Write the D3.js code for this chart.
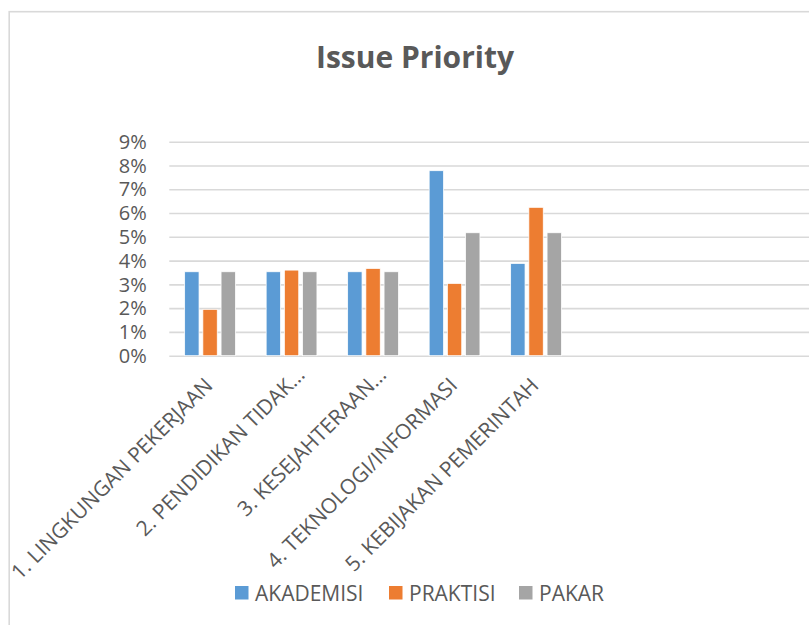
<!DOCTYPE html>
<html>
<head>
<meta charset="utf-8">
<script src="https://cdn.jsdelivr.net/npm/d3@7"></script>
<style>
  body { margin: 0; background: #fff; }
  text { font-family: "Open Sans", "Noto Sans", sans-serif; fill: #595959; }
  .title { font-weight: bold; font-size: 30px; }
  .tick-label { font-size: 20px; }
  .cat-label { font-size: 21px; }
  .legend-label { font-size: 21px; }
  .grid line { stroke: #d9d9d9; stroke-width: 1.6; }
  .grid path { display: none; }
</style>
</head>
<body>
<div id="chart"></div>
<script>
// Grouped bar chart "Issue Priority" (in %).

const categories = [
  "1. LINGKUNGAN PEKERJAAN",
  "2. PENDIDIKAN TIDAK…",
  "3. KESEJAHTERAAN…",
  "4. TEKNOLOGI/INFORMASI",
  "5. KEBIJAKAN PEMERINTAH"
];
const seriesNames = ["AKADEMISI", "PRAKTISI", "PAKAR"];
const akademisi = [3.53, 3.53, 3.53, 7.78, 3.88];
const praktisi = [1.95, 3.60, 3.67, 3.04, 6.24];
const pakar = [3.53, 3.53, 3.53, 5.17, 5.17];
const yTicks = [0, 1, 2, 3, 4, 5, 6, 7, 8, 9];
const colors = ["#5b9bd5", "#ed7d31", "#a5a5a5"];

const width = 809;
const height = 625;

// plot box; the slot width leaves room for 8 categories, so the right side runs off the frame
const plotLeft = 169.3;
const slot = 81.5;
const plotTop = 141.7;
const plotBottom = 355.7;

const svg = d3.select("#chart")
  .append("svg")
  .attr("width", width)
  .attr("height", height);

// outer chart border (cut off on the right and bottom)
svg.append("rect")
  .attr("x", 9.2)
  .attr("y", 11.7)
  .attr("width", width + 40)
  .attr("height", height + 40)
  .attr("fill", "none")
  .attr("stroke", "#d9d9d9")
  .attr("stroke-width", 1.6);

svg.append("text")
  .attr("class", "title")
  .attr("x", 415)
  .attr("y", 68)
  .attr("text-anchor", "middle")
  .text("Issue Priority");

const x0 = d3.scaleBand()
  .domain(categories)
  .range([plotLeft, plotLeft + slot * categories.length]);

const x1 = d3.scaleBand()
  .domain(seriesNames)
  .range([0, 54.6])
  .paddingInner(0.21)
  .paddingOuter(0.105);

const y = d3.scaleLinear()
  .domain([0, 9])
  .range([plotBottom, plotTop]);

const color = d3.scaleOrdinal()
  .domain(seriesNames)
  .range(colors);

// horizontal gridlines (0% line doubles as the axis)
svg.append("g")
  .attr("class", "grid")
  .attr("transform", `translate(${plotLeft},0)`)
  .call(d3.axisLeft(y).tickValues(yTicks).tickSize(-(width + 20 - plotLeft)).tickFormat(""));

svg.append("g")
  .selectAll("text")
  .data(yTicks)
  .join("text")
  .attr("class", "tick-label")
  .attr("x", 146.7)
  .attr("y", d => y(d))
  .attr("dy", "0.36em")
  .attr("text-anchor", "end")
  .text(d => `${d}%`);

const rows = categories.map((c, i) => ({
  category: c,
  values: [akademisi[i], praktisi[i], pakar[i]].map((v, j) => ({ name: seriesNames[j], value: v }))
}));

const groupOffset = (x0.bandwidth() - 54.6) / 2;

svg.append("g")
  .selectAll("g")
  .data(rows)
  .join("g")
  .attr("transform", d => `translate(${x0(d.category) + groupOffset},0)`)
  .selectAll("rect")
  .data(d => d.values)
  .join("rect")
  .attr("x", d => x1(d.name))
  .attr("width", x1.bandwidth())
  .attr("y", d => y(d.value))
  .attr("height", d => y(0) - y(d.value))
  .attr("fill", d => color(d.name))
  .attr("stroke", "#fff")
  .attr("stroke-width", 0.75);

// rotated category labels
svg.append("g")
  .selectAll("text")
  .data(categories)
  .join("text")
  .attr("class", "cat-label")
  .attr("transform", d => `translate(${x0(d) + x0.bandwidth() / 2 + 4},${plotBottom + 31}) rotate(-45)`)
  .attr("dx", d => d.endsWith("…") ? 15 : 0)
  .attr("text-anchor", "end")
  .text(d => d);

// legend
const legendX = [235, 389, 519];
const legend = svg.append("g")
  .selectAll("g")
  .data(seriesNames)
  .join("g")
  .attr("transform", (d, i) => `translate(${legendX[i]},586)`);

legend.append("rect")
  .attr("width", 13.5)
  .attr("height", 13.5)
  .attr("fill", d => color(d));

legend.append("text")
  .attr("class", "legend-label")
  .attr("x", 20)
  .attr("y", 14.5)
  .text(d => d);
</script>
</body>
</html>
